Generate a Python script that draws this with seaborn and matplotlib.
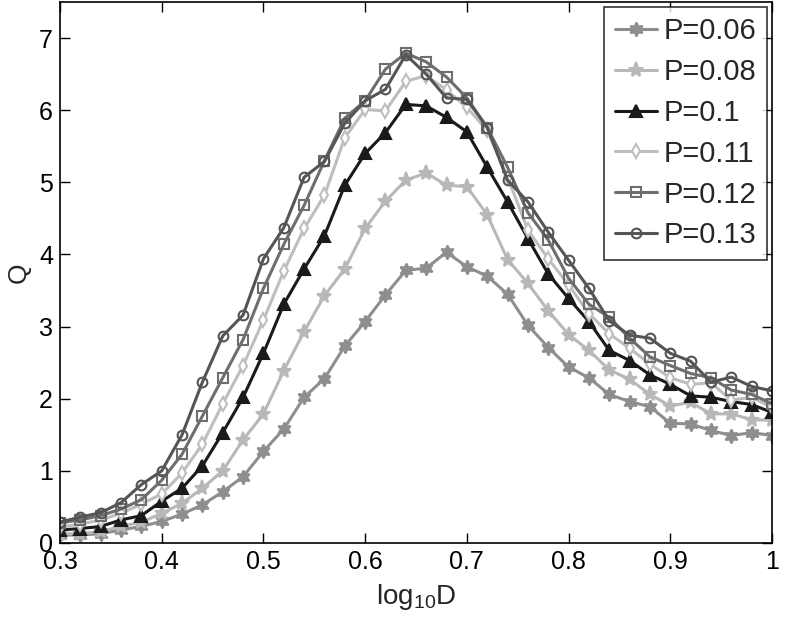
import numpy as np
import pandas as pd
import matplotlib
matplotlib.use("Agg")
import matplotlib.pyplot as plt
import seaborn as sns

# ---- data ----
log10D = [round(0.30 + 0.02 * i, 2) for i in range(36)]

P006 = [0.11, 0.11, 0.13, 0.18, 0.23, 0.30, 0.40, 0.53, 0.71, 0.92, 1.27, 1.58,
        2.02, 2.28, 2.73, 3.07, 3.44, 3.78, 3.81, 4.03, 3.83, 3.70, 3.45, 3.02,
        2.71, 2.44, 2.29, 2.06, 1.96, 1.89, 1.66, 1.65, 1.56, 1.49, 1.53, 1.49]
P008 = [0.13, 0.13, 0.16, 0.23, 0.29, 0.41, 0.55, 0.76, 1.00, 1.43, 1.79, 2.39,
        2.93, 3.43, 3.80, 4.36, 4.74, 5.03, 5.13, 4.96, 4.94, 4.55, 3.93, 3.60,
        3.22, 2.89, 2.67, 2.40, 2.27, 2.06, 1.90, 1.95, 1.79, 1.79, 1.71, 1.70]
P010 = [0.18, 0.20, 0.23, 0.32, 0.38, 0.58, 0.76, 1.07, 1.53, 2.02, 2.63, 3.31,
        3.80, 4.26, 4.96, 5.40, 5.69, 6.08, 6.06, 5.90, 5.70, 5.21, 4.73, 4.22,
        3.73, 3.39, 3.07, 2.67, 2.53, 2.33, 2.20, 2.04, 2.02, 1.96, 1.92, 1.81]
P011 = [0.22, 0.26, 0.32, 0.41, 0.54, 0.68, 0.97, 1.37, 1.93, 2.46, 3.09, 3.77,
        4.36, 4.82, 5.62, 6.01, 5.99, 6.40, 6.48, 6.28, 6.04, 5.72, 5.07, 4.34,
        3.94, 3.58, 3.18, 2.90, 2.70, 2.48, 2.29, 2.20, 2.22, 1.98, 2.02, 1.88]
P012 = [0.28, 0.32, 0.38, 0.47, 0.60, 0.87, 1.23, 1.76, 2.29, 2.82, 3.53, 4.14,
        4.68, 5.30, 5.89, 6.13, 6.57, 6.79, 6.67, 6.46, 6.17, 5.76, 5.21, 4.58,
        4.20, 3.67, 3.31, 3.13, 2.84, 2.58, 2.46, 2.35, 2.29, 2.12, 2.06, 1.93]
P013 = [0.29, 0.36, 0.42, 0.56, 0.81, 1.00, 1.50, 2.23, 2.87, 3.16, 3.94, 4.37,
        5.07, 5.29, 5.82, 6.13, 6.29, 6.77, 6.50, 6.17, 6.15, 5.76, 5.03, 4.73,
        4.31, 3.92, 3.53, 3.08, 2.88, 2.84, 2.63, 2.52, 2.23, 2.30, 2.17, 2.11]

labels = ["P=0.06", "P=0.08", "P=0.1", "P=0.11", "P=0.12", "P=0.13"]
series = [P006, P008, P010, P011, P012, P013]
colors = ["#8e8e8e", "#b8b8b8", "#1a1a1a", "#bebebe", "#6e6e6e", "#555555"]
markers = [(6, 1, 0), "*", "^", "d", "s", "o"]
msizes = [10, 11, 8, 7, 6.5, 7]
mfaces = ["#8e8e8e", "#b8b8b8", "#1a1a1a", "white", "none", "none"]

sns.set_theme(style="white")
plt.rcParams['font.family'] = ['Liberation Sans', 'DejaVu Sans']
plt.rcParams['mathtext.fontset'] = 'custom'
plt.rcParams['mathtext.rm'] = 'Liberation Sans'
plt.rcParams['mathtext.it'] = 'Liberation Sans'

fig = plt.figure(figsize=(7.86, 6.31), dpi=100)
ax = fig.add_axes([60 / 786, 1 - 543 / 631, (772 - 60) / 786, (543 - 2) / 631])

for lab, vals, c, m, ms, mf in zip(labels, series, colors, markers, msizes, mfaces):
    df = pd.DataFrame({"x": log10D, "y": vals})
    sns.lineplot(data=df, x="x", y="y", ax=ax, color=c, marker=m, markersize=ms,
                 markerfacecolor=mf, markeredgecolor=c, markeredgewidth=1.5,
                 linewidth=2.2, label=lab)

ax.set_xlim(0.3, 1.0)
ax.set_ylim(0, 7.5)
ax.set_xticks([0.3, 0.4, 0.5, 0.6, 0.7, 0.8, 0.9, 1.0])
ax.set_xticklabels(["0.3", "0.4", "0.5", "0.6", "0.7", "0.8", "0.9", "1"])
ax.set_yticks(range(8))
ax.tick_params(direction="in", length=7, width=1, labelsize=18, colors="black",
               top=True, right=True, bottom=True, left=True, pad=5)
for s in ax.spines.values():
    s.set_color("black")
    s.set_linewidth(1.2)

ax.set_xlabel(r"log$_{10}$D", fontsize=20, labelpad=6)
ax.set_ylabel("Q", fontsize=19, labelpad=6)

leg = ax.legend(loc="upper right", fontsize=21, frameon=True, fancybox=False,
                edgecolor="black", handlelength=1.45, handletextpad=0.25,
                borderpad=0.35, labelspacing=0.44, borderaxespad=0.17)
leg.get_frame().set_linewidth(1.2)

fig.savefig("out.png", dpi=100)
